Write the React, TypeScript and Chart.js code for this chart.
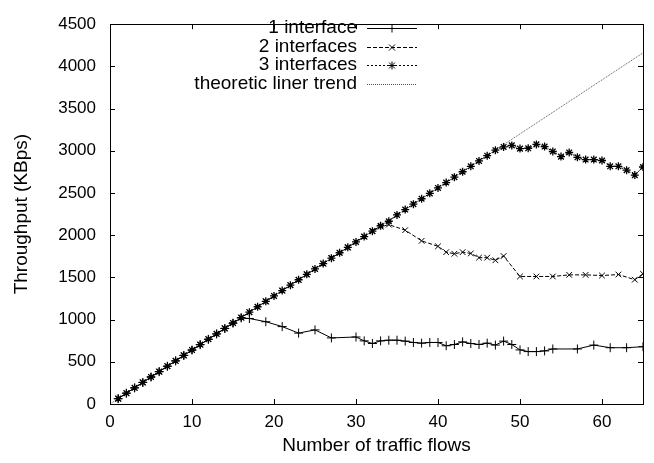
import React, { useEffect, useRef } from "react";
import { Chart, registerables } from "chart.js";

Chart.register(...registerables);

// Number of concurrent traffic flows (x) and measured throughput in KBps (y)
const flows1Iface = [1, 2, 3, 4, 5, 6, 7, 8, 9, 10, 11, 12, 13, 14, 15, 16, 17, 19, 21, 23, 25, 27, 30, 31, 32, 33, 34, 35, 36, 37, 38, 39, 40, 41, 42, 43, 44, 45, 46, 47, 48, 49, 50, 51, 52, 53, 54, 57, 59, 61, 63, 65];
const kbps1Iface = [63, 128, 191, 255, 320, 383, 447, 511, 575, 639, 703, 766, 830, 894, 958, 1020, 1013, 975, 917, 840, 878, 783, 794, 748, 717, 748, 756, 756, 745, 729, 721, 729, 729, 690, 705, 736, 717, 705, 721, 698, 745, 705, 641, 621, 621, 629, 652, 652, 698, 667, 667, 679];

const flows2Iface = [1, 2, 3, 4, 5, 6, 7, 8, 9, 10, 11, 12, 13, 14, 15, 16, 17, 18, 19, 20, 21, 22, 23, 24, 25, 26, 27, 28, 29, 30, 31, 32, 33, 34, 36, 38, 40, 41, 42, 43, 44, 45, 46, 47, 48, 50, 52, 54, 56, 58, 60, 62, 64, 65];
const kbps2Iface = [64, 128, 192, 255, 319, 384, 448, 511, 576, 640, 703, 768, 831, 896, 959, 1023, 1088, 1151, 1215, 1280, 1343, 1408, 1471, 1536, 1599, 1664, 1727, 1792, 1855, 1920, 1983, 2047, 2100, 2125, 2060, 1933, 1868, 1799, 1780, 1799, 1784, 1734, 1734, 1703, 1753, 1511, 1511, 1511, 1530, 1530, 1522, 1534, 1473, 1542];

const flows3Iface = [1, 2, 3, 4, 5, 6, 7, 8, 9, 10, 11, 12, 13, 14, 15, 16, 17, 18, 19, 20, 21, 22, 23, 24, 25, 26, 27, 28, 29, 30, 31, 32, 33, 34, 35, 36, 37, 38, 39, 40, 41, 42, 43, 44, 45, 46, 47, 48, 49, 50, 51, 52, 53, 54, 55, 56, 57, 58, 59, 60, 61, 62, 63, 64, 65];
const kbps3Iface = [64, 128, 192, 256, 320, 384, 448, 512, 576, 640, 704, 768, 832, 896, 960, 1024, 1088, 1152, 1216, 1280, 1344, 1408, 1472, 1536, 1600, 1664, 1728, 1792, 1856, 1920, 1984, 2048, 2112, 2165, 2240, 2304, 2368, 2432, 2496, 2560, 2624, 2688, 2752, 2816, 2880, 2942, 3007, 3046, 3064, 3026, 3030, 3076, 3050, 2992, 2931, 2980, 2923, 2896, 2896, 2885, 2816, 2816, 2770, 2712, 2808];

const flowsTrend = [0, 65];
const kbpsTrend = [0, 4160];

const xTicks = [0, 10, 20, 30, 40, 50, 60];
const yTicks = [0, 500, 1000, 1500, 2000, 2500, 3000, 3500, 4000, 4500];

const seriesNames = ["1 interface", "2 interfaces", "3 interfaces", "theoretic liner trend"];

const FONT = "Liberation Sans, Arial, Helvetica, sans-serif";
const TICK_SIZE = 17;
const TEXT_SIZE = 19;

const toPoints = (xs: number[], ys: number[]) => xs.map((x, i) => ({ x, y: ys[i] }));

type Marker = "cross" | "crossRot" | "star" | "none";

function drawMarker(ctx: CanvasRenderingContext2D, kind: Marker, x: number, y: number, r: number) {
  if (kind === "none") return;
  ctx.beginPath();
  if (kind === "cross" || kind === "star") {
    ctx.moveTo(x - r, y);
    ctx.lineTo(x + r, y);
    ctx.moveTo(x, y - r);
    ctx.lineTo(x, y + r);
  }
  if (kind === "crossRot" || kind === "star") {
    const d = r * 0.75;
    ctx.moveTo(x - d, y - d);
    ctx.lineTo(x + d, y + d);
    ctx.moveTo(x - d, y + d);
    ctx.lineTo(x + d, y - d);
  }
  ctx.stroke();
}

const legendStyles: { dash: number[]; color: string; marker: Marker; r: number }[] = [
  { dash: [], color: "#000", marker: "cross", r: 4 },
  { dash: [4, 2], color: "#000", marker: "crossRot", r: 4 },
  { dash: [2, 2], color: "#000", marker: "star", r: 4 },
  { dash: [1, 1], color: "#555", marker: "none", r: 0 },
];

// Frame with inward ticks on all four sides, axis titles and the key
const framePlugin = {
  id: "gnuFrame",
  afterDraw(chart: any) {
    const ctx: CanvasRenderingContext2D = chart.ctx;
    const { left, right, top, bottom } = chart.chartArea;
    const xs = chart.scales.x;
    const ys = chart.scales.y;
    const tl = 5;
    ctx.save();
    ctx.strokeStyle = "#000";
    ctx.lineWidth = 1;
    ctx.setLineDash([]);
    ctx.strokeRect(Math.round(left) + 0.5, Math.round(top) + 0.5, Math.round(right - left), Math.round(bottom - top));
    ctx.beginPath();
    xTicks.forEach((v) => {
      const px = Math.round(xs.getPixelForValue(v)) + 0.5;
      ctx.moveTo(px, bottom);
      ctx.lineTo(px, bottom - tl);
      ctx.moveTo(px, top);
      ctx.lineTo(px, top + tl);
    });
    yTicks.forEach((v) => {
      const py = Math.round(ys.getPixelForValue(v)) + 0.5;
      ctx.moveTo(left, py);
      ctx.lineTo(left + tl, py);
      ctx.moveTo(right, py);
      ctx.lineTo(right - tl, py);
    });
    ctx.stroke();

    // axis titles
    ctx.fillStyle = "#000";
    ctx.font = `${TEXT_SIZE}px ${FONT}`;
    ctx.textAlign = "center";
    ctx.textBaseline = "middle";
    ctx.fillText("Number of traffic flows", (left + right) / 2, 446);
    ctx.save();
    ctx.translate(22, (top + bottom) / 2);
    ctx.rotate(-Math.PI / 2);
    ctx.fillText("Throughput (KBps)", 0, 0);
    ctx.restore();

    // key
    const textRight = 357;
    const sampleL = 367;
    const sampleR = 417;
    seriesNames.forEach((name, i) => {
      const y = 28 + i * 18.5;
      const st = legendStyles[i];
      ctx.textAlign = "right";
      ctx.fillStyle = "#000";
      ctx.fillText(name, textRight, y);
      ctx.strokeStyle = st.color;
      ctx.lineWidth = 1;
      ctx.setLineDash(st.dash);
      ctx.beginPath();
      ctx.moveTo(sampleL, Math.round(y) + 0.5);
      ctx.lineTo(sampleR, Math.round(y) + 0.5);
      ctx.stroke();
      ctx.setLineDash([]);
      drawMarker(ctx, st.marker, (sampleL + sampleR) / 2, Math.round(y) + 0.5, st.r);
    });
    ctx.restore();
  },
};

export default function App() {
  const canvasRef = useRef<HTMLCanvasElement | null>(null);

  useEffect(() => {
    if (!canvasRef.current) return;
    const chart = new Chart(canvasRef.current, {
      type: "line",
      data: {
        datasets: [
          {
            label: seriesNames[0],
            data: toPoints(flows1Iface, kbps1Iface),
            borderColor: "#000",
            borderWidth: 1,
            pointStyle: "cross",
            pointRadius: 4.5,
            pointBorderColor: "#000",
            pointBorderWidth: 1,
            fill: false,
            tension: 0,
          },
          {
            label: seriesNames[1],
            data: toPoints(flows2Iface, kbps2Iface),
            borderColor: "#000",
            borderWidth: 1,
            borderDash: [4, 2],
            pointStyle: "crossRot",
            pointRadius: 4,
            pointBorderColor: "#000",
            pointBorderWidth: 1,
            fill: false,
            tension: 0,
          },
          {
            label: seriesNames[2],
            data: toPoints(flows3Iface, kbps3Iface),
            borderColor: "#000",
            borderWidth: 1,
            borderDash: [2, 2],
            pointStyle: "star",
            pointRadius: 4,
            pointBorderColor: "#000",
            pointBorderWidth: 1.3,
            fill: false,
            tension: 0,
          },
          {
            label: seriesNames[3],
            data: toPoints(flowsTrend, kbpsTrend),
            borderColor: "#555",
            borderWidth: 1,
            borderDash: [1, 1],
            pointRadius: 0,
            fill: false,
            tension: 0,
          },
        ],
      },
      options: {
        animation: false,
        responsive: false,
        events: [],
        layout: { padding: { left: 0, top: 13, right: 11, bottom: 0 } },
        plugins: { legend: { display: false }, tooltip: { enabled: false } },
        scales: {
          x: {
            type: "linear",
            min: 0,
            max: 65,
            grid: { display: false, drawTicks: false },
            border: { display: false },
            ticks: {
              stepSize: 10,
              includeBounds: false,
              padding: 8,
              color: "#000",
              font: { family: FONT, size: TICK_SIZE },
              maxRotation: 0,
              callback: (v: any) => String(v),
            },
            afterFit: (scale: any) => {
              scale.height = 59;
            },
          },
          y: {
            type: "linear",
            min: 0,
            max: 4500,
            grid: { display: false, drawTicks: false },
            border: { display: false },
            ticks: {
              stepSize: 500,
              padding: 14,
              color: "#000",
              font: { family: FONT, size: TICK_SIZE },
              callback: (v: any) => String(v),
            },
            afterFit: (scale: any) => {
              scale.width = 110;
            },
          },
        },
      },
      plugins: [framePlugin],
    });
    return () => chart.destroy();
  }, []);

  return (
    <div style={{ position: "absolute", left: 0, top: 0, width: 654, height: 463, background: "#fff" }}>
      <canvas ref={canvasRef} width={654} height={463} style={{ display: "block" }} />
    </div>
  );
}
